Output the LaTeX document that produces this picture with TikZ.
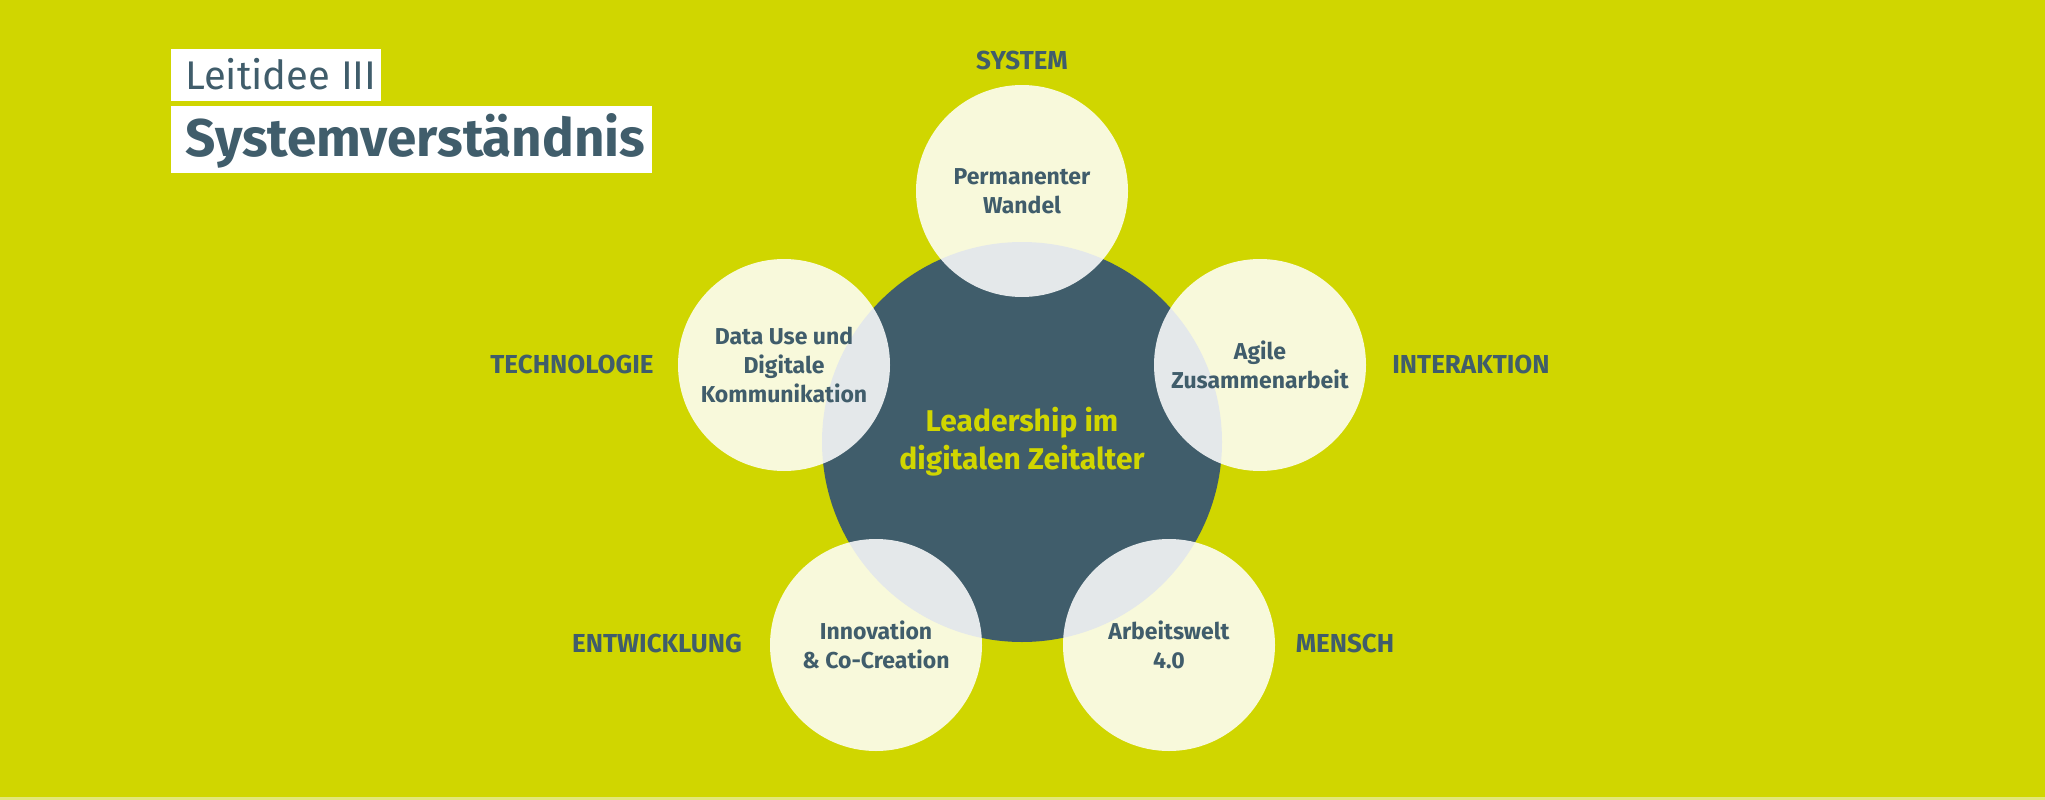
\documentclass[tikz,border=0pt]{standalone}
\usepackage{fontspec}
\setmainfont{Fira Sans}
\definecolor{lime}{RGB}{208,214,0}
\definecolor{dark}{RGB}{64,93,107}
\definecolor{strip}{RGB}{226,231,120}
\tikzset{
  outer/.style={circle, minimum size=212pt, inner sep=0pt, fill=white, fill opacity=0.86, text opacity=1,
    text=dark, align=center, font=\bfseries\fontsize{23}{29}\selectfont},
  core/.style={circle, minimum size=400pt, inner sep=0pt, fill=dark, text=lime, align=center,
    font=\bfseries\fontsize{30}{38}\selectfont},
  label/.style={text=dark, inner sep=0pt, font=\bfseries\fontsize{26}{30}\selectfont},
  titlebox/.style={fill=white, draw=none}
}
\begin{document}
\begin{tikzpicture}[x=1pt,y=-1pt]
\useasboundingbox (0,0) rectangle (2045,800);
\fill[lime] (0,0) rectangle (2045,800);
\fill[strip] (0,797) rectangle (2045,800);
% title
\fill[titlebox] (171,49) rectangle (381,101);
\fill[titlebox] (171,106) rectangle (652,173);
\node[anchor=base west, inner sep=0pt, text=dark, font=\fontsize{40}{44}\selectfont] (t1) at (185,89) {Leitidee III};
\node[anchor=base west, inner sep=0pt, text=dark, font=\bfseries\fontsize{53}{60}\selectfont] (t2) at (185,156) {Systemverständnis};
% central
\node[core] (c) at (1022,442) {Leadership im\\digitalen Zeitalter};
% outer circles
\node[outer] (o1) at (1022,191) {Permanenter\\Wandel};
\node[outer] (o2) at (1260,365) {Agile\\Zusammenarbeit};
\node[outer] (o3) at (1169,645) {Arbeitswelt\\4.0};
\node[outer] (o4) at (876,645) {Innovation\\\&~Co-Creation};
\node[outer] (o5) at (784,365) {Data Use und\\Digitale\\Kommunikation};
% labels
\node[label] (l1) at (1022,60) {SYSTEM};
\node[label] (l2) at (1471,364) {INTERAKTION};
\node[label] (l3) at (1345,643) {MENSCH};
\node[label] (l4) at (657,643) {ENTWICKLUNG};
\node[label] (l5) at (572,364) {TECHNOLOGIE};
\end{tikzpicture}
\end{document}
